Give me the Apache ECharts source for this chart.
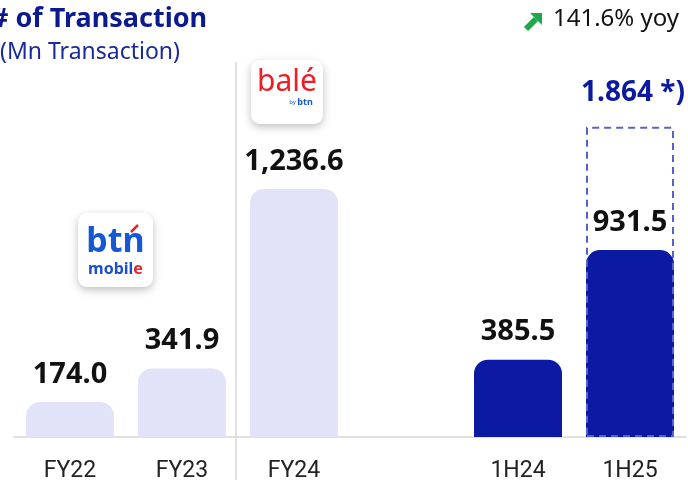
<!DOCTYPE html>
<html>
<head>
<meta charset="utf-8">
<script src="https://cdn.jsdelivr.net/npm/echarts@6/dist/echarts.min.js"></script>
<style>
  html, body { margin: 0; padding: 0; background: #fff; }
  #chart { width: 688px; height: 485px; }
</style>
</head>
<body>
<div id="chart"></div>
<script>
const categories = ['FY22', 'FY23', 'FY24', '', '1H24', '1H25'];
const fullYear = [174.0, 341.9, 1236.6, null, null, null];
const halfYear = [null, null, null, null, 385.5, 931.5];
// dashed outline above 1H25 (drawn not to scale in the source)
const outlook = [null, null, null, null, null, 1546];
const outlookLabel = '1.864 *)';
const yoyText = '141.6% yoy';

const chart = echarts.init(document.getElementById('chart'));

const numFmt = (v) => v.toLocaleString('en-US', { minimumFractionDigits: 1, maximumFractionDigits: 1 });

const valueLabel = {
  show: true,
  position: 'top',
  distance: 13,
  color: '#111',
  fontFamily: 'Noto Sans',
  fontWeight: 'bold',
  fontSize: 29,
  formatter: (p) => numFmt(p.value)
};

const option = {
  animation: false,
  grid: { left: 14, right: 2, top: 116, bottom: 48 },
  xAxis: {
    type: 'category',
    data: categories,
    axisTick: { show: false },
    axisLine: { lineStyle: { color: '#d6d6d6', width: 1.5 } },
    axisLabel: {
      color: '#222',
      fontFamily: 'Roboto',
      fontSize: 23,
      margin: 23
    }
  },
  yAxis: {
    type: 'value',
    min: 0,
    max: 1600,
    show: false,
    splitLine: { show: false }
  },
  series: [
    {
      type: 'bar',
      data: fullYear,
      barWidth: 88,
      barGap: '-100%',
      itemStyle: { color: '#e1e4f8', borderRadius: [14, 14, 0, 0] },
      label: valueLabel
    },
    {
      type: 'bar',
      data: halfYear,
      barWidth: 88,
      barGap: '-100%',
      itemStyle: { color: '#0c19a3', borderRadius: [14, 14, 0, 0] },
      label: valueLabel
    },
    {
      type: 'bar',
      data: outlook,
      barWidth: 88,
      barGap: '-100%',
      z: 5,
      itemStyle: {
        color: 'rgba(0,0,0,0)',
        borderColor: '#5463cc',
        borderWidth: 2,
        borderType: [7, 5]
      },
      label: {
        show: true,
        position: 'top',
        distance: 20,
        offset: [3, 0],
        color: '#0c1aa0',
        fontFamily: 'Noto Sans',
        fontWeight: 'bold',
        fontSize: 28,
        formatter: outlookLabel
      }
    }
  ],
  graphic: [
    {
      type: 'text', left: -9, top: 6,
      style: { text: '# of Transaction', fill: '#0c1a8f', font: 'bold 27px "Noto Sans"' }
    },
    {
      type: 'text', left: 0, top: 41,
      style: { text: '(Mn Transaction)', fill: '#1a2a9a', font: '23px "Noto Sans"' }
    },
    {
      type: 'text', left: 553, top: 7,
      style: { text: yoyText, fill: '#111', font: '24px "Noto Sans"' }
    },
    {
      type: 'group', left: 523, top: 13,
      children: [
        { type: 'polyline', shape: { points: [[2, 16], [12, 6]] }, style: { stroke: '#1fa84a', lineWidth: 6 } },
        { type: 'polygon', shape: { points: [[6, 0], [18, 0], [18, 12]] }, style: { fill: '#1fa84a' } }
      ]
    },
    {
      type: 'line', shape: { x1: 236, y1: 62, x2: 236, y2: 480 },
      style: { stroke: '#d6d6d6', lineWidth: 1.5 }
    },
    {
      type: 'group', left: 78, top: 213,
      children: [
        {
          type: 'rect', shape: { x: 0, y: 0, width: 75, height: 74, r: 9 },
          style: { fill: '#fff', shadowBlur: 8, shadowColor: 'rgba(0,0,0,0.25)', shadowOffsetY: 3 }
        },
        { type: 'text', x: 37.5, y: 12, style: { text: 'btn', fill: '#1557d6', font: 'bold 34px "Noto Sans"', align: 'center' } },
        { type: 'line', shape: { x1: 53, y1: 19, x2: 60, y2: 12 }, style: { stroke: '#e3262b', lineWidth: 2.5 } },
        {
          type: 'text', x: 37.5, y: 48,
          style: {
            text: '{b|mobil}{r|e}', align: 'center',
            rich: {
              b: { fill: '#1a50d0', font: 'bold 16px "Noto Sans"' },
              r: { fill: '#e3262b', font: 'bold 16px "Noto Sans"' }
            }
          }
        }
      ]
    },
    {
      type: 'group', left: 251, top: 60,
      children: [
        {
          type: 'rect', shape: { x: 0, y: 0, width: 72, height: 64, r: 9 },
          style: { fill: '#fff', shadowBlur: 8, shadowColor: 'rgba(0,0,0,0.25)', shadowOffsetY: 3 }
        },
        { type: 'text', x: 36, y: 7, style: { text: 'balé', fill: '#ee1c25', font: '30px "Noto Sans"', align: 'center' } },
        {
          type: 'text', x: 50, y: 38,
          style: {
            text: '{a|by }{b|btn}', align: 'center',
            rich: {
              a: { fill: '#1557d6', font: '6px "Noto Sans"' },
              b: { fill: '#1557d6', font: 'bold 9px "Noto Sans"' }
            }
          }
        }
      ]
    }
  ]
};

chart.setOption(option);
</script>
</body>
</html>
